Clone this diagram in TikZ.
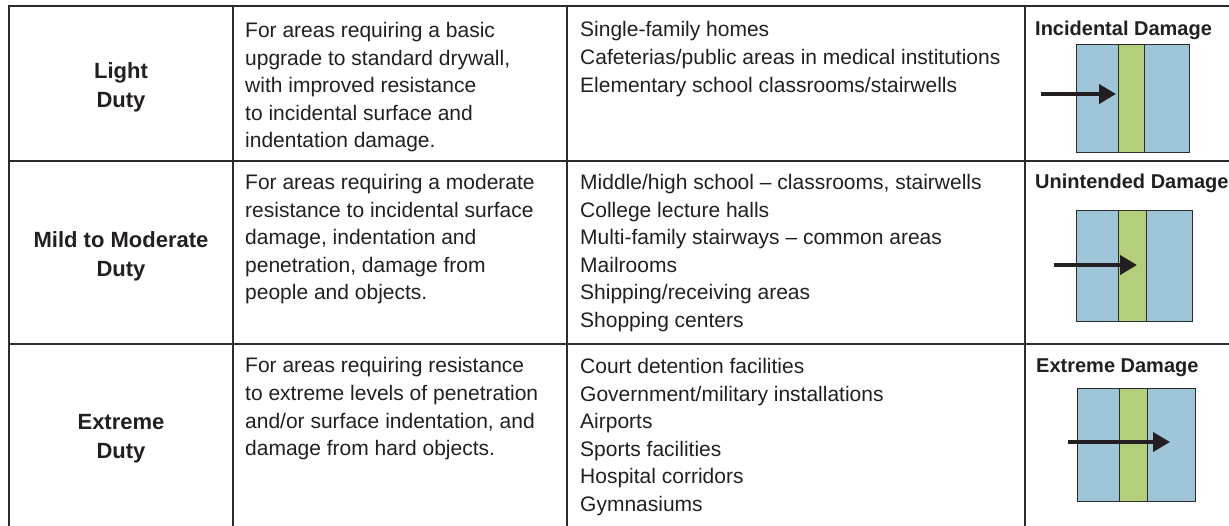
\documentclass[tikz,border=0pt]{standalone}
\usepackage{fontspec}
\setmainfont{Liberation Sans}
\usetikzlibrary{arrows.meta}
\definecolor{ink}{HTML}{231F20}
\definecolor{rule}{HTML}{2B2B2B}
\definecolor{panelblue}{HTML}{9EC5D8}
\definecolor{panelgreen}{HTML}{B4CF7B}
\tikzset{
  gridline/.style={draw=rule, line width=2pt},
  dutylabel/.style={anchor=north, inner sep=0pt, align=center, text=ink,
    font=\fontsize{22}{28.5}\selectfont\bfseries},
  bodytext/.style={anchor=north west, inner sep=0pt, align=left, text=ink,
    font=\fontsize{21}{27.6}\selectfont},
  damagetitle/.style={anchor=base west, inner sep=0pt, text=ink,
    font=\fontsize{20}{24}\selectfont\bfseries},
  bluepanel/.style={draw=rule, line width=1pt, fill=panelblue},
  greenpanel/.style={draw=rule, line width=1pt, fill=panelgreen},
  hitarrow/.style={draw=ink, line width=4pt, -{Triangle[length=17pt,width=19pt]}}
}
\begin{document}
\begin{tikzpicture}[x=1pt,y=-1pt]
\useasboundingbox (0,0) rectangle (1229,525);
% grid
\draw[gridline] (9,6) -- (1229,6);
\draw[gridline] (9,161) -- (1229,161);
\draw[gridline] (9,344) -- (1229,344);
\draw[gridline] (9,5) -- (9,526);
\draw[gridline] (233,5) -- (233,526);
\draw[gridline] (567,5) -- (567,526);
\draw[gridline] (1025,5) -- (1025,526);

% column 1
\node[dutylabel] (d1) at (121,62.5) {Light\\Duty};
\node[dutylabel] (d2) at (121,231.5) {Mild to Moderate\\Duty};
\node[dutylabel] (d3) at (121,414.5) {Extreme\\Duty};

% column 2
\node[bodytext] (p1) at (245,22) {For areas requiring a basic\\upgrade to standard drywall,\\with improved resistance\\to incidental surface and\\indentation damage.};
\node[bodytext] (p2) at (245,174) {For areas requiring a moderate\\resistance to incidental surface\\damage, indentation and\\penetration, damage from\\people and objects.};
\node[bodytext] (p3) at (245,357.5) {For areas requiring resistance\\to extreme levels of penetration\\and/or surface indentation, and\\damage from hard objects.};

% column 3
\node[bodytext] (u1) at (580,21.5) {Single-family homes\\Cafeterias/public areas in medical institutions\\Elementary school classrooms/stairwells};
\node[bodytext] (u2) at (580,174) {Middle/high school -- classrooms, stairwells\\College lecture halls\\Multi-family stairways -- common areas\\Mailrooms\\Shipping/receiving areas\\Shopping centers};
\node[bodytext] (u3) at (580,358) {Court detention facilities\\Government/military installations\\Airports\\Sports facilities\\Hospital corridors\\Gymnasiums};

% column 4 titles
\node[damagetitle] (t1) at (1035,35) {Incidental Damage};
\node[damagetitle] (t2) at (1035,188) {Unintended Damage};
\node[damagetitle] (t3) at (1036,372) {Extreme Damage};

% panel 1
\path[bluepanel] (1076,44) rectangle (1189,152);
\path[greenpanel] (1118,44) rectangle (1144,152);
\coordinate (a1s) at (1041,94);
\coordinate (a1e) at (1116,94);
\draw[hitarrow] (a1s) -- (a1e);

% panel 2
\path[bluepanel] (1076,210) rectangle (1192,321);
\path[greenpanel] (1118,210) rectangle (1146,321);
\coordinate (a2s) at (1054,265);
\coordinate (a2e) at (1137,265);
\draw[hitarrow] (a2s) -- (a2e);

% panel 3
\path[bluepanel] (1077,388) rectangle (1195,501);
\path[greenpanel] (1119,388) rectangle (1147,501);
\coordinate (a3s) at (1068,442);
\coordinate (a3e) at (1170,442);
\draw[hitarrow] (a3s) -- (a3e);
\end{tikzpicture}
\end{document}
